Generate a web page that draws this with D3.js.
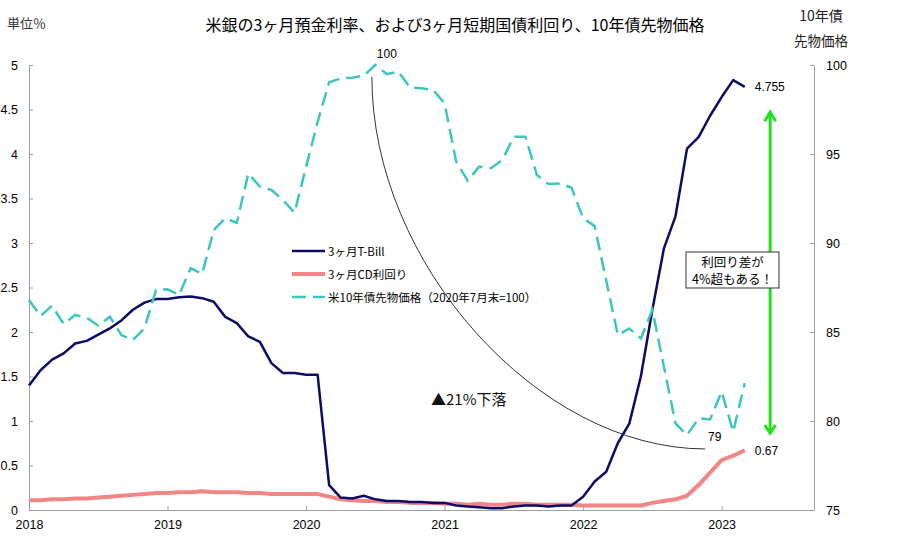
<!DOCTYPE html>
<html>
<head>
<meta charset="utf-8">
<title>米銀の3ヶ月預金利率</title>
<script src="https://cdn.jsdelivr.net/npm/d3@7"></script>
<style>
  body { margin: 0; background: #fff; }
  text { font-family: "Liberation Sans", "Noto Sans CJK JP", sans-serif; }
  .jp { font-family: "Noto Sans CJK JP", sans-serif; }
</style>
</head>
<body>
<div id="chart"></div>
<script>
// 月次データ（2018年1月 = 0 から 2023年3月 = 62）
var yearTicks = ["2018", "2019", "2020", "2021", "2022", "2023"];
var leftTicks = [0, 0.5, 1, 1.5, 2, 2.5, 3, 3.5, 4, 4.5, 5];
var rightTicks = [75, 80, 85, 90, 95, 100];

// 3ヶ月T-Bill（%）
var tbill = [1.40, 1.57, 1.69, 1.76, 1.87, 1.90, 1.97, 2.04, 2.13, 2.25, 2.33, 2.37,
             2.37, 2.39, 2.40, 2.38, 2.34, 2.17, 2.10, 1.95, 1.89, 1.65, 1.54, 1.54,
             1.52, 1.52, 0.28, 0.14, 0.13, 0.16, 0.12, 0.10, 0.10, 0.09, 0.09, 0.08,
             0.08, 0.05, 0.04, 0.03, 0.02, 0.02, 0.04, 0.05, 0.05, 0.04, 0.05, 0.05,
             0.15, 0.32, 0.43, 0.75, 0.97, 1.50, 2.25, 2.94, 3.30, 4.06, 4.19, 4.43,
             4.64, 4.83, 4.755];

// 3ヶ月CD利回り（%）
var cd = [0.11, 0.11, 0.12, 0.12, 0.13, 0.13, 0.14, 0.15, 0.16, 0.17, 0.18, 0.19,
          0.19, 0.20, 0.20, 0.21, 0.20, 0.20, 0.20, 0.19, 0.19, 0.18, 0.18, 0.18,
          0.18, 0.18, 0.15, 0.12, 0.11, 0.10, 0.10, 0.09, 0.09, 0.08, 0.08, 0.08,
          0.07, 0.07, 0.06, 0.07, 0.06, 0.06, 0.07, 0.07, 0.06, 0.06, 0.06, 0.06,
          0.05, 0.05, 0.05, 0.05, 0.05, 0.05, 0.08, 0.10, 0.12, 0.16, 0.28, 0.42,
          0.56, 0.61, 0.67];

// 米10年債先物価格（2020年7月末=100）
var bond = [86.80, 85.90, 86.48, 85.45, 85.96, 85.80, 85.35, 85.86, 84.83, 84.55, 85.20, 87.36,
            87.40, 87.08, 88.58, 88.26, 90.73, 91.39, 91.14, 93.91, 93.16, 92.98, 92.42, 91.70,
            94.27, 96.80, 99.03, 99.25, 99.29, 99.40, 100.0, 99.49, 99.63, 98.73, 98.69, 98.60,
            97.85, 94.57, 93.50, 94.29, 94.20, 94.66, 95.97, 95.97, 93.82, 93.31, 93.35, 93.10,
            91.39, 90.95, 87.90, 84.83, 85.20, 84.64, 86.24, 83.05, 79.87, 79.21, 80.15, 80.09,
            81.65, 79.40, 82.12];

var width = 900, height = 551;
var padding = { top: 65, right: 86, bottom: 41, left: 29 };

var svg = d3.select("#chart").append("svg")
    .attr("width", width)
    .attr("height", height);

var x = d3.scaleLinear().domain([0, 68]).range([padding.left, width - padding.right]);
var yL = d3.scaleLinear().domain([0, 5]).range([height - padding.bottom, padding.top]);
var yR = d3.scaleLinear().domain([75, 100]).range([height - padding.bottom, padding.top]);

// 軸
var axisColor = "#a0a0a0";
function styleAxis(g) {
    g.selectAll("path, line").attr("stroke", axisColor);
    g.selectAll("text").attr("fill", "#000").attr("font-size", "12.5px");
}

svg.append("g")
    .attr("transform", "translate(0," + yL(0) + ")")
    .call(d3.axisBottom(x)
        .tickValues(yearTicks.map(function(d, i){ return i * 12; }))
        .tickFormat(function(d){ return yearTicks[d / 12]; })
        .tickSizeInner(-4).tickSizeOuter(0).tickPadding(10))
    .call(styleAxis);

svg.append("g")
    .attr("transform", "translate(" + x(0) + ",0)")
    .call(d3.axisLeft(yL)
        .tickValues(leftTicks)
        .tickFormat(function(d){ return d; })
        .tickSizeInner(-4).tickSizeOuter(0).tickPadding(11))
    .call(styleAxis);

svg.append("g")
    .attr("transform", "translate(" + x(68) + ",0)")
    .call(d3.axisRight(yR)
        .tickValues(rightTicks)
        .tickSizeInner(-4).tickSizeOuter(0).tickPadding(12))
    .call(styleAxis);

// 折れ線
var lineL = d3.line().x(function(d, i){ return x(i); }).y(function(d){ return yL(d); });
var lineR = d3.line().x(function(d, i){ return x(i); }).y(function(d){ return yR(d); });

svg.append("path").datum(cd)
    .attr("d", lineL).attr("fill", "none")
    .attr("stroke", "#f28585").attr("stroke-width", 4).attr("stroke-linejoin", "round");

svg.append("path").datum(tbill)
    .attr("d", lineL).attr("fill", "none")
    .attr("stroke", "#0c0c66").attr("stroke-width", 2.5).attr("stroke-linejoin", "round");

svg.append("path").datum(bond)
    .attr("d", lineR).attr("fill", "none")
    .attr("stroke", "#3cc6bd").attr("stroke-width", 2.5)
    .attr("stroke-dasharray", "14,7");

// タイトルなど
svg.append("text").attr("class", "jp")
    .attr("x", 455).attr("y", 31).attr("text-anchor", "middle")
    .attr("font-size", "16px").attr("font-weight", 400)
    .text("米銀の3ヶ月預金利率、および3ヶ月短期国債利回り、10年債先物価格");

svg.append("text").attr("class", "jp")
    .attr("x", 7).attr("y", 28).attr("font-size", "13px").attr("fill", "#333")
    .text("単位％");

svg.append("text").attr("class", "jp")
    .attr("x", 821).attr("y", 21).attr("text-anchor", "middle")
    .attr("font-size", "14px").attr("fill", "#222")
    .text("10年債");
svg.append("text").attr("class", "jp")
    .attr("x", 821).attr("y", 46).attr("text-anchor", "middle")
    .attr("font-size", "13.5px").attr("fill", "#222")
    .text("先物価格");

// 凡例
var legend = [
    { name: "3ヶ月T-Bill", color: "#0c0c66", w: 2.5, dash: null },
    { name: "3ヶ月CD利回り", color: "#f28585", w: 4, dash: null },
    { name: "米10年債先物価格（2020年7月末=100）", color: "#3cc6bd", w: 2.5, dash: "14,7" }
];
var lg = svg.append("g").attr("transform", "translate(292,251)");
legend.forEach(function(d, i){
    lg.append("line")
        .attr("x1", 0).attr("x2", 33).attr("y1", i * 23).attr("y2", i * 23)
        .attr("stroke", d.color).attr("stroke-width", d.w)
        .attr("stroke-dasharray", d.dash);
    lg.append("text").attr("class", "jp")
        .attr("x", 36).attr("y", i * 23 + 4.5)
        .attr("font-size", "11.5px")
        .text(d.name);
});

// 下落の弧（2020年7月の高値から）
var p0 = [x(29.7), yR(99.33)], p3 = [x(58.57), yR(78.43)];
var k = 0.5;
var arc = d3.path();
arc.moveTo(p0[0], p0[1]);
arc.bezierCurveTo(p0[0], p0[1] + k * (p3[1] - p0[1]),
                  p3[0] - k * (p3[0] - p0[0]), p3[1],
                  p3[0], p3[1]);
svg.append("path").attr("d", arc.toString())
    .attr("fill", "none").attr("stroke", "#333").attr("stroke-width", 1);

// 値ラベル
svg.append("text").attr("x", x(31)).attr("y", 58).attr("text-anchor", "middle")
    .attr("font-size", "12px").text("100");
svg.append("text").attr("x", x(59.4)).attr("y", 441).attr("text-anchor", "middle")
    .attr("font-size", "12px").text("79");
svg.append("text").attr("x", x(62) + 10).attr("y", yL(4.755) + 4.5)
    .attr("font-size", "12px").text("4.755");
svg.append("text").attr("x", x(62) + 10).attr("y", yL(0.67) + 4.5)
    .attr("font-size", "12px").text("0.67");

svg.append("text").attr("class", "jp")
    .attr("x", 431).attr("y", 405).attr("font-size", "15px").attr("fill", "#111")
    .text("▲21%下落");

// 利回り差の矢印
var ax = x(64.2), aTop = yL(4.47), aBot = yL(0.865);
var green = "#22e01e";
svg.append("line").attr("x1", ax).attr("x2", ax).attr("y1", aTop).attr("y2", aBot)
    .attr("stroke", green).attr("stroke-width", 3);
svg.append("path")
    .attr("d", "M" + (ax - 5.5) + "," + (aTop + 9) + "L" + ax + "," + aTop + "L" + (ax + 5.5) + "," + (aTop + 9))
    .attr("fill", "none").attr("stroke", green).attr("stroke-width", 3);
svg.append("path")
    .attr("d", "M" + (ax - 5.5) + "," + (aBot - 8) + "L" + ax + "," + aBot + "L" + (ax + 5.5) + "," + (aBot - 8))
    .attr("fill", "none").attr("stroke", green).attr("stroke-width", 3);

var box = svg.append("g").attr("transform", "translate(686,252)");
box.append("rect").attr("width", 93).attr("height", 36)
    .attr("fill", "#fff").attr("stroke", "#333").attr("stroke-width", 1);
box.append("text").attr("class", "jp").attr("x", 46.5).attr("y", 14.5)
    .attr("text-anchor", "middle").attr("font-size", "12.5px").text("利回り差が");
box.append("text").attr("class", "jp").attr("x", 46.5).attr("y", 32)
    .attr("text-anchor", "middle").attr("font-size", "12.5px").text("4%超もある！");
</script>
</body>
</html>
